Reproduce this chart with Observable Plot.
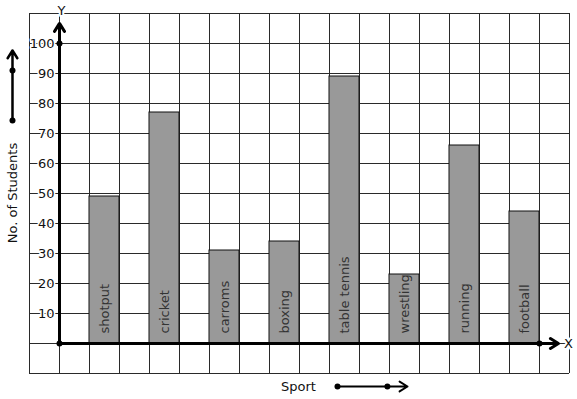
<!DOCTYPE html>
<html><head><meta charset="utf-8">
<script src="https://cdn.jsdelivr.net/npm/d3@7"></script>
<script src="https://cdn.jsdelivr.net/npm/@observablehq/plot@0.6"></script>
<style>body{margin:0;background:#fff}</style>
</head><body><div id="chart"></div>
<script>
// ---- data ----
const sports = ["shotput", "cricket", "carroms", "boxing", "table tennis", "wrestling", "running", "football"];
const students = [49, 77, 31, 34, 89, 23, 66, 44];
const yTickValues = [10, 20, 30, 40, 50, 60, 70, 80, 90, 100];
const yAxisTitle = "No. of Students";
const xAxisTitle = "Sport";
const yAxisLetter = "Y";
const xAxisLetter = "X";

// grid cells (graph paper)
const xGrid = d3.range(-1, 18);
const yGrid = d3.range(-10, 111, 10);

// bars occupy every other grid cell, starting one cell right of the origin
const bars = sports.map((s, i) => ({sport: s, value: students[i], x1: 1 + 2 * i, x2: 2 + 2 * i}));

const ink = "#111";
const font = "DejaVu Sans";

const chart = Plot.plot({
  width: 577,
  height: 399,
  marginTop: 0, marginRight: 0, marginBottom: 0, marginLeft: 0,
  x: {domain: [-1, 17], range: [29, 569], axis: null},
  y: {domain: [-10, 110], range: [373, 13], axis: null},
  style: {fontFamily: font, fontSize: "13px", background: "#fff", color: ink},
  marks: [
    // graph paper grid
    Plot.ruleX(xGrid, {x: d => d, y1: -10, y2: 110, stroke: "#2a2a2a", strokeWidth: 1}),
    Plot.ruleY(yGrid, {y: d => d, x1: -1, x2: 17, stroke: "#2a2a2a", strokeWidth: 1}),
    // bars
    Plot.rect(bars, {x1: "x1", x2: "x2", y1: 0, y2: "value", fill: "#999", stroke: ink, strokeWidth: 1}),
    // bar labels
    Plot.text(bars, {x: d => (d.x1 + d.x2) / 2, y: 0, text: "sport", rotate: -90, textAnchor: "start",
      lineAnchor: "middle", dy: -10, fill: "#333", fontSize: 13, fontFamily: font}),
    // axes with arrows
    Plot.arrow([0], {x1: 0, y1: 0, x2: 0, y2: 106.7, stroke: "#000", strokeWidth: 3, headLength: 4.7, headAngle: 64}),
    Plot.arrow([0], {x1: 0, y1: 0, x2: 16.63, y2: 0, stroke: "#000", strokeWidth: 3, headLength: 4.7, headAngle: 64}),
    Plot.dot([[0, 0], [0, 100], [16, 0]], {x: d => d[0], y: d => d[1], r: 3, fill: "#000", stroke: null}),
    // y tick labels (with white background)
    Plot.text(yTickValues, {x: 0, y: d => d, text: d => String(d), textAnchor: "end", dx: -5,
      fill: ink, stroke: "#fff", strokeWidth: 3, paintOrder: "stroke", fontSize: 13, fontFamily: font}),
    // axis letters
    Plot.text([yAxisLetter], {x: 0, y: 110, dx: 2, dy: -3, text: d => d, fill: ink, stroke: "#fff",
      strokeWidth: 4, paintOrder: "stroke", fontSize: 13, fontFamily: font}),
    Plot.text([xAxisLetter], {x: 17, y: 0, dx: -1, text: d => d, fill: ink, stroke: "#fff",
      strokeWidth: 4, paintOrder: "stroke", fontSize: 13, fontFamily: font}),
    // y title with direction arrow
    Plot.text([yAxisTitle], {x: -1.567, y: 50.17, rotate: -90, text: d => d, textAnchor: "middle",
      lineAnchor: "middle", fill: ink, fontSize: 13, fontFamily: font}),
    Plot.arrow([0], {x1: -1.567, y1: 74.33, x2: -1.567, y2: 97.67, stroke: "#000", strokeWidth: 2.5, headLength: 5.5, headAngle: 64}),
    Plot.dot([74.33, 91], {x: -1.567, y: d => d, r: 3, fill: "#000", stroke: null}),
    // x title with direction arrow
    Plot.text([xAxisTitle], {x: 7.967, y: -14.33, text: d => d, textAnchor: "middle",
      lineAnchor: "middle", fill: ink, fontSize: 13, fontFamily: font}),
    Plot.arrow([0], {x1: 9.267, y1: -14.33, x2: 11.6, y2: -14.33, stroke: "#000", strokeWidth: 2, headLength: 7, headAngle: 64}),
    Plot.dot([9.267, 10.93], {x: d => d, y: -14.33, r: 3, fill: "#000", stroke: null})
  ]
});
document.getElementById("chart").appendChild(chart);
</script>
</body></html>
